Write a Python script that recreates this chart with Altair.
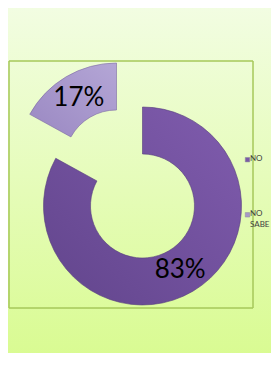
import altair as alt
import pandas as pd

categories = ["NO", "NO SABE"]
values = [83, 17]
legend_colors = ["#7b5aa6", "#a898c8"]

df = pd.DataFrame({"cat": categories, "value": values, "order": list(range(len(categories)))})

W, H = 263, 345

def base():
    return (
        alt.Chart(df)
        .transform_window(cum="sum(value)", sort=[alt.SortField("order")], frame=[None, 0])
        .transform_joinaggregate(total="sum(value)")
        .transform_calculate(
            t0="(datum.cum - datum.value) / datum.total * 2 * PI",
            t1="datum.cum / datum.total * 2 * PI",
        )
        .transform_calculate(mid="(datum.t0 + datum.t1) / 2", label="datum.value + '%'")
    )

bg = alt.Chart(df).mark_rect(
    fill=alt.Gradient(gradient="linear", x1=0, y1=0, x2=0, y2=1,
                      stops=[alt.GradientStop(offset=0, color="#f2fde2"),
                             alt.GradientStop(offset=1, color="#d8fb8e")]),
    stroke="#b2d46a", strokeWidth=1,
).encode(x=alt.value(-7), x2=alt.value(W + 20), y=alt.value(-1), y2=alt.value(H + 20))

box = alt.Chart(df).mark_rect(
    fill="transparent", stroke="#a6c85a", strokeWidth=1,
).encode(x=alt.value(1), x2=alt.value(245), y=alt.value(53), y2=alt.value(300))

CX, CY = 134.5, 198
EX, EY = 108.5, 154
R0, R1 = 52, 99

no_fill = alt.Gradient(gradient="linear", x1=1, y1=0, x2=0, y2=1,
                       stops=[alt.GradientStop(offset=0, color="#805cae"),
                              alt.GradientStop(offset=1, color="#62458c")])
ns_fill = alt.Gradient(gradient="linear", x1=1, y1=0, x2=0, y2=1,
                       stops=[alt.GradientStop(offset=0, color="#b4a6d6"),
                              alt.GradientStop(offset=1, color="#9a88c2")])

arc_no = base().transform_filter(alt.datum.cat == "NO").mark_arc(
    innerRadius=R0, outerRadius=R1, fill=no_fill, stroke="#563c7c", strokeWidth=0.6,
).encode(theta=alt.Theta("t0:Q", scale=None), theta2="t1:Q",
         x=alt.value(CX), y=alt.value(CY))

arc_ns = base().transform_filter(alt.datum.cat == "NO SABE").mark_arc(
    innerRadius=R0, outerRadius=R1, fill=ns_fill, stroke="#7c6aa2", strokeWidth=0.6,
).encode(theta=alt.Theta("t0:Q", scale=None), theta2="t1:Q",
         x=alt.value(EX), y=alt.value(EY))

font = "Lato, Roboto, sans-serif"

lab_no = base().transform_filter(alt.datum.cat == "NO").mark_text(
    font=font, fontSize=26, color="#000000", align="center", baseline="middle",
).encode(theta=alt.Theta("mid:Q", scale=None), radius=alt.value(74),
         x=alt.value(CX), y=alt.value(CY), text="label:N")

lab_ns = base().transform_filter(alt.datum.cat == "NO SABE").mark_text(
    font=font, fontSize=26, color="#000000", align="center", baseline="middle",
).encode(theta=alt.Theta("mid:Q", scale=None), radius=alt.value(74),
         x=alt.value(EX), y=alt.value(EY), text="label:N")

ly = alt.Y("cat:N", axis=None, scale=alt.Scale(domain=categories, range=[151.7, 206.8], padding=0))

leg_sym = alt.Chart(df).mark_square(size=20, opacity=1, stroke="#8a8a9a", strokeWidth=0.5).encode(
    x=alt.value(239.5), y=ly,
    fill=alt.Fill("cat:N", scale=alt.Scale(domain=categories, range=legend_colors), legend=None),
)

leg_txt = alt.Chart(df).mark_text(
    font=font, fontSize=8, color="#404040", align="left", baseline="top", dy=-4.5, lineBreak=" ",
    lineHeight=11,
).encode(x=alt.value(242), y=ly, text="cat:N")

chart = alt.layer(bg, box, arc_no, arc_ns, lab_no, lab_ns, leg_sym, leg_txt).properties(
    width=W, height=H, padding=0, autosize=alt.AutoSizeParams(type="none"),
).configure_view(stroke=None)

chart.save("out.html", embed_options={"renderer": "svg", "actions": False})
